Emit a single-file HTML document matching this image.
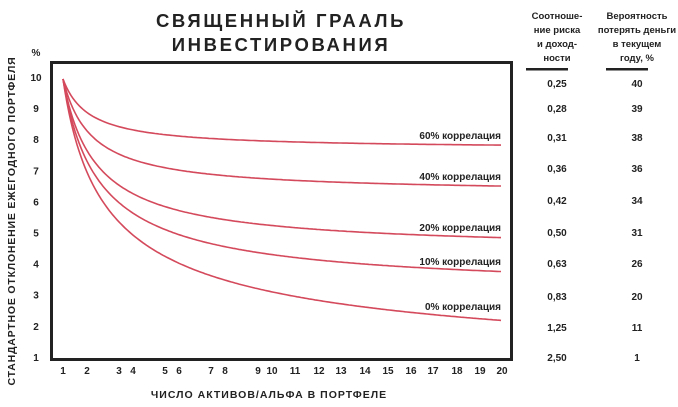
<!DOCTYPE html>
<html><head><meta charset="utf-8">
<style>
body{margin:0;background:#fff;}
svg{display:block;font-family:"Liberation Sans","DejaVu Sans",sans-serif;}
</style></head>
<body>
<svg id="s" width="678" height="407" viewBox="0 0 678 407" xmlns="http://www.w3.org/2000/svg">
<g font-weight="bold" fill="#222" text-anchor="middle">
<text x="281" y="27" font-size="18.5" letter-spacing="2.6">СВЯЩЕННЫЙ ГРААЛЬ</text>
<text x="281" y="51" font-size="18.5" letter-spacing="2.6">ИНВЕСТИРОВАНИЯ</text>
<text x="269" y="398" font-size="10.5" letter-spacing="1">ЧИСЛО АКТИВОВ/АЛЬФА В ПОРТФЕЛЕ</text>
<text transform="translate(15,221) rotate(-90)" font-size="10.5" letter-spacing="0.8">СТАНДАРТНОЕ ОТКЛОНЕНИЕ ЕЖЕГОДНОГО ПОРТФЕЛЯ</text>
<g font-size="9.5">
<text x="557" y="19">Соотноше-</text><text x="557" y="33">ние риска</text><text x="557" y="47">и доход-</text><text x="557" y="61">ности</text>
<text x="637" y="19">Вероятность</text><text x="637" y="33">потерять деньги</text><text x="637" y="47">в текущем</text><text x="637" y="61">году, %</text>
</g>
</g>
<rect x="526" y="68" width="42" height="2.5" fill="#222"/>
<rect x="606" y="68" width="42" height="2.5" fill="#222"/>
<rect x="51.5" y="62.5" width="460" height="297" fill="none" stroke="#222" stroke-width="3"/>
<g id="g" font-size="10" font-weight="bold" fill="#222"></g>
</svg>
<script>
var g=document.getElementById('g'),ns="http://www.w3.org/2000/svg";
function t(x,y,s,a){var e=document.createElementNS(ns,'text');e.setAttribute('x',x);e.setAttribute('y',y);if(a)e.setAttribute('text-anchor',a);e.textContent=s;g.appendChild(e);}
function Y(v){return 77+(10-v)*31.1;}
t(36,56,'%','middle');
for(var v=1;v<=10;v++)t(36,Y(v)+4,v,'middle');
var xs=[63,87,119,133,165,179,211,225,258,272,295,319,341,365,388,411,433,457,480,502];
for(var i=0;i<20;i++)t(xs[i],374,i+1,'middle');
var c1=['0,25','0,28','0,31','0,36','0,42','0,50','0,63','0,83','1,25','2,50'],c2=[40,39,38,36,34,31,26,20,11,1];
var ys=[87,112,141,172,204,236,267,300,331,361];
for(var i=0;i<10;i++){t(557,ys[i],c1[i],'middle');t(637,ys[i],c2[i],'middle');}
var rh=[0.6,0.4,0.2,0.1,0],ly=[139,180,231,265,310],lb=['60%','40%','20%','10%','0%'];
for(var k=0;k<5;k++){var d='';for(var x=63;x<=502;x+=2){var n=1+(x-63)/439*19;var s=10*Math.sqrt(rh[k]+(1-rh[k])/n);d+=(x==63?'M':'L')+x+','+(Y(s)+2).toFixed(1);}
var p=document.createElementNS(ns,'path');p.setAttribute('d',d);p.setAttribute('fill','none');p.setAttribute('stroke','#d44a5c');p.setAttribute('stroke-width','1.6');g.appendChild(p);
t(501,ly[k],lb[k]+' коррелация','end');}
</script>
</body></html>
